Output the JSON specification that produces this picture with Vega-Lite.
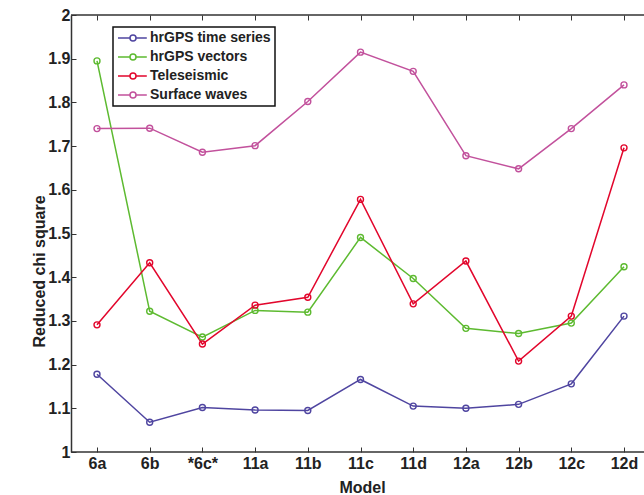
{
  "$schema": "https://vega.github.io/schema/vega-lite/v6.json",
  "autosize": "none",
  "padding": {"left": 71, "top": 15, "right": 0, "bottom": 43},
  "width": 573,
  "height": 437,
  "background": "white",
  "config": {
    "view": {"stroke": null},
    "font": "Liberation Sans",
    "axis": {
      "domainColor": "#333333",
      "domainWidth": 1.5,
      "tickColor": "#333333",
      "tickWidth": 1,
      "grid": false,
      "labelFont": "Liberation Sans",
      "labelFontWeight": "bold",
      "labelFontSize": 16,
      "labelColor": "#222222",
      "titleFont": "Liberation Sans",
      "titleFontWeight": "bold",
      "titleFontSize": 16,
      "titleColor": "#222222"
    }
  },
  "data": {
    "values": [
      {"model": "6a", "series": "hrGPS time series", "value": 1.178},
      {"model": "6b", "series": "hrGPS time series", "value": 1.068},
      {"model": "*6c*", "series": "hrGPS time series", "value": 1.102},
      {"model": "11a", "series": "hrGPS time series", "value": 1.096},
      {"model": "11b", "series": "hrGPS time series", "value": 1.095},
      {"model": "11c", "series": "hrGPS time series", "value": 1.166},
      {"model": "11d", "series": "hrGPS time series", "value": 1.105},
      {"model": "12a", "series": "hrGPS time series", "value": 1.100},
      {"model": "12b", "series": "hrGPS time series", "value": 1.109},
      {"model": "12c", "series": "hrGPS time series", "value": 1.156},
      {"model": "12d", "series": "hrGPS time series", "value": 1.311},
      {"model": "6a", "series": "hrGPS vectors", "value": 1.895},
      {"model": "6b", "series": "hrGPS vectors", "value": 1.322},
      {"model": "*6c*", "series": "hrGPS vectors", "value": 1.263},
      {"model": "11a", "series": "hrGPS vectors", "value": 1.324},
      {"model": "11b", "series": "hrGPS vectors", "value": 1.320},
      {"model": "11c", "series": "hrGPS vectors", "value": 1.491},
      {"model": "11d", "series": "hrGPS vectors", "value": 1.397},
      {"model": "12a", "series": "hrGPS vectors", "value": 1.283},
      {"model": "12b", "series": "hrGPS vectors", "value": 1.271},
      {"model": "12c", "series": "hrGPS vectors", "value": 1.295},
      {"model": "12d", "series": "hrGPS vectors", "value": 1.424},
      {"model": "6a", "series": "Teleseismic", "value": 1.291},
      {"model": "6b", "series": "Teleseismic", "value": 1.433},
      {"model": "*6c*", "series": "Teleseismic", "value": 1.247},
      {"model": "11a", "series": "Teleseismic", "value": 1.336},
      {"model": "11b", "series": "Teleseismic", "value": 1.354},
      {"model": "11c", "series": "Teleseismic", "value": 1.578},
      {"model": "11d", "series": "Teleseismic", "value": 1.339},
      {"model": "12a", "series": "Teleseismic", "value": 1.437},
      {"model": "12b", "series": "Teleseismic", "value": 1.208},
      {"model": "12c", "series": "Teleseismic", "value": 1.311},
      {"model": "12d", "series": "Teleseismic", "value": 1.696},
      {"model": "6a", "series": "Surface waves", "value": 1.740},
      {"model": "6b", "series": "Surface waves", "value": 1.741},
      {"model": "*6c*", "series": "Surface waves", "value": 1.686},
      {"model": "11a", "series": "Surface waves", "value": 1.701},
      {"model": "11b", "series": "Surface waves", "value": 1.802},
      {"model": "11c", "series": "Surface waves", "value": 1.915},
      {"model": "11d", "series": "Surface waves", "value": 1.871},
      {"model": "12a", "series": "Surface waves", "value": 1.678},
      {"model": "12b", "series": "Surface waves", "value": 1.648},
      {"model": "12c", "series": "Surface waves", "value": 1.740},
      {"model": "12d", "series": "Surface waves", "value": 1.840}
    ]
  },
  "layer": [
    {
      "data": {"values": [{"frame": "top"}]},
      "mark": {"type": "rule", "color": "#333333", "strokeWidth": 1.5},
      "encoding": {"y": {"datum": 2, "type": "quantitative"}}
    },
    {
      "data": {"values": [{"frame": "bottom"}]},
      "mark": {"type": "rule", "color": "#333333", "strokeWidth": 1.5},
      "encoding": {"y": {"datum": 1, "type": "quantitative"}}
    },
    {
      "mark": {"type": "line", "strokeWidth": 1.5},
      "encoding": {
        "x": {
          "field": "model",
          "type": "ordinal",
          "sort": ["6a", "6b", "*6c*", "11a", "11b", "11c", "11d", "12a", "12b", "12c", "12d"],
          "scale": {"type": "point", "range": [26, 553], "padding": 0},
          "axis": {
            "title": "Model",
            "orient": "bottom",
            "domain": false,
            "labelAngle": 0,
            "tickSize": -5,
            "labelPadding": 8,
            "titleX": 291,
            "titleY": 35,
            "titleBaseline": "middle"
          }
        },
        "y": {
          "field": "value",
          "type": "quantitative",
          "scale": {"domain": [1, 2], "nice": false, "zero": false},
          "axis": {
            "title": "Reduced chi square",
            "values": [1, 1.1, 1.2, 1.3, 1.4, 1.5, 1.6, 1.7, 1.8, 1.9, 2],
            "format": ".1~f",
            "tickSize": -5,
            "labelPadding": 6,
            "titleX": -32,
            "titleY": 256,
            "titleBaseline": "middle"
          }
        },
        "color": {
          "field": "series",
          "type": "nominal",
          "scale": {
            "domain": ["hrGPS time series", "hrGPS vectors", "Teleseismic", "Surface waves"],
            "range": ["#4f45a0", "#5dba30", "#e2062c", "#c2519c"]
          },
          "legend": {
            "title": null,
            "orient": "none",
            "legendX": 42,
            "legendY": 12,
            "direction": "vertical",
            "fillColor": "white",
            "strokeColor": "#111111",
            "padding": 4,
            "cornerRadius": 0,
            "labelFont": "Liberation Sans",
            "labelFontWeight": "bold",
            "labelFontSize": 14,
            "labelColor": "#222222",
            "symbolType": "M-1,0H1M2,0H3.8M2,0A0.5,0.5 0 1,1 1,0A0.5,0.5 0 1,1 2,0",
            "symbolSize": 144,
            "symbolStrokeWidth": 1.5,
            "symbolFillColor": "transparent",
            "labelOffset": 19,
            "rowPadding": 5,
            "encode": {"legend": {"update": {"strokeWidth": {"value": 1.5}}}}
          }
        }
      }
    },
    {
      "mark": {"type": "point", "shape": "circle", "filled": false, "size": 36, "strokeWidth": 1.4, "opacity": 1},
      "encoding": {
        "x": {
          "field": "model",
          "type": "ordinal",
          "sort": ["6a", "6b", "*6c*", "11a", "11b", "11c", "11d", "12a", "12b", "12c", "12d"],
          "scale": {"type": "point", "range": [26, 553], "padding": 0},
          "axis": {
            "title": null,
            "orient": "top",
            "domain": false,
            "labels": false,
            "tickSize": -5
          }
        },
        "y": {"field": "value", "type": "quantitative"},
        "color": {"field": "series", "type": "nominal"}
      }
    }
  ],
  "resolve": {"axis": {"x": "independent"}}
}
